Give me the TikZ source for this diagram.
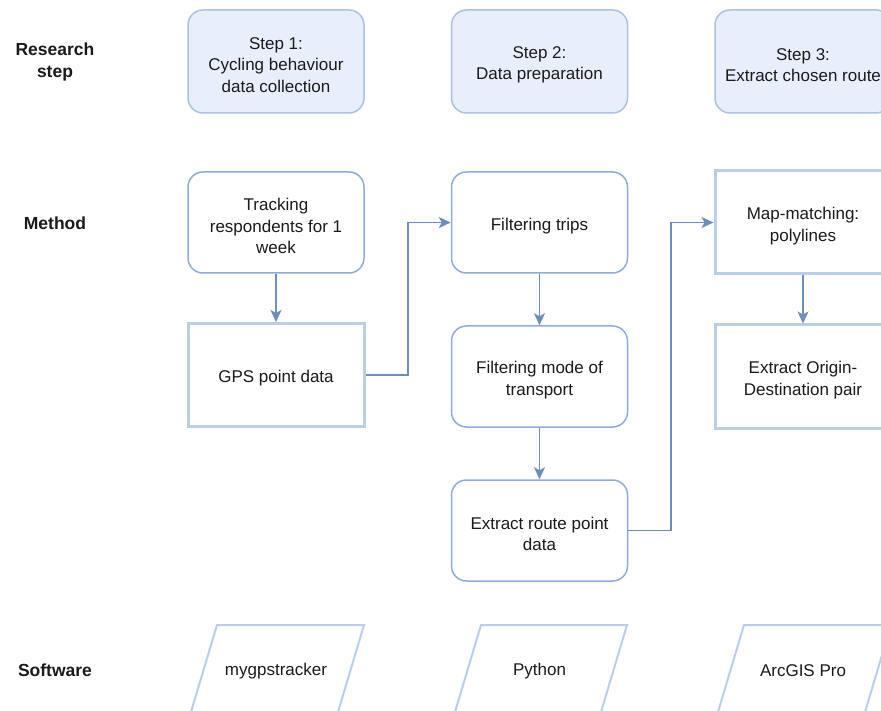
\documentclass[tikz,border=0pt]{standalone}
\usepackage{fontspec}
\setmainfont{Liberation Sans}
\usetikzlibrary{arrows.meta}
\definecolor{stepfill}{HTML}{E9EFFA}
\definecolor{stepdraw}{HTML}{A9C2E6}
\definecolor{rbdraw}{HTML}{8FAADC}
\definecolor{thickdraw}{HTML}{BACEEA}
\definecolor{arrowc}{HTML}{6C8EBF}
\definecolor{txt}{HTML}{1A1A1A}
\tikzset{
  x=1pt,y=-1pt,
  base/.style={minimum width=176pt, inner sep=0pt},
  btxt/.style={inner sep=0pt, align=center, text=txt, font=\fontsize{17}{21.5}\selectfont, yshift=-3.5pt},
  stepbox/.style={base, draw=stepdraw, fill=stepfill, line width=1.5pt, rounded corners=15pt, minimum height=103pt},
  rbox/.style={base, draw=rbdraw, fill=white, line width=1.5pt, rounded corners=15pt, minimum height=101pt},
  tbox/.style={base, draw=thickdraw, fill=white, line width=3pt, minimum height=103pt},
  para/.style={draw=thickdraw, line width=2pt},
  lbl/.style={text=txt, font=\fontsize{17.5}{21.5}\selectfont\bfseries, align=center},
  ptxt/.style={text=txt, font=\fontsize{17}{21.5}\selectfont},
  arr/.style={draw=arrowc, line width=1.4pt, -{Stealth[length=12pt,width=11pt,inset=3pt]}},
}
\begin{document}
\begin{tikzpicture}
\useasboundingbox (0,0) rectangle (881,711);
\clip (0,0) rectangle (881,711);
% labels
\node[lbl] (lres) at (55,62) {Research\\step};
\node[lbl] (lmet) at (55,223) {Method};
\node[lbl] (lsoft) at (55,670) {Software};
% step boxes
\node[stepbox, label={[btxt]center:{Step 1:\\Cycling behaviour\\data collection}}] (s1) at (276,61.5) {};
\node[stepbox, label={[btxt]center:{Step 2:\\Data preparation}}] (s2) at (539.5,61.5) {};
\node[stepbox, label={[btxt]center:{Step 3:\\Extract chosen route}}] (s3) at (803,61.5) {};
% method boxes
\node[rbox, label={[btxt]center:{Tracking\\respondents for 1\\week}}] (track) at (276,222.5) {};
\node[tbox, label={[btxt]center:{GPS point data}}] (gps) at (276,375) {};
\node[rbox, label={[btxt]center:{Filtering trips}}] (ftrip) at (539.5,222.5) {};
\node[rbox, label={[btxt]center:{Filtering mode of\\transport}}] (fmode) at (539.5,376.5) {};
\node[rbox, label={[btxt]center:{Extract route point\\data}}] (ext) at (539.5,530.5) {};
\node[tbox, label={[btxt]center:{Map-matching:\\polylines}}] (map) at (803,222.5) {};
\node[tbox, label={[btxt]center:{Extract Origin-\\Destination pair}}] (od) at (803,376.5) {};
% connectors
\draw[arr] (track.south) -- (gps.north);
\draw[arr] (gps.east) -- (408,375) |- (ftrip.west);
\draw[arr] (ftrip.south) -- (fmode.north);
\draw[arr] (fmode.south) -- (ext.north);
\draw[arr] (ext.east) -- (671,530.5) |- (map.west);
\draw[arr] (map.south) -- (od.north);
% software parallelograms
\draw[para] (217,625) -- (364,625) -- (335,722) -- (188,722) -- cycle;
\draw[para] (481,625) -- (627,625) -- (598,722) -- (452,722) -- cycle;
\draw[para] (744,625) -- (891,625) -- (862,722) -- (715,722) -- cycle;
\node[ptxt] (sw1) at (276,671) {mygpstracker};
\node[ptxt] (sw2) at (539.5,671) {Python};
\node[ptxt] (sw3) at (803,671) {ArcGIS Pro};
\end{tikzpicture}
\end{document}
